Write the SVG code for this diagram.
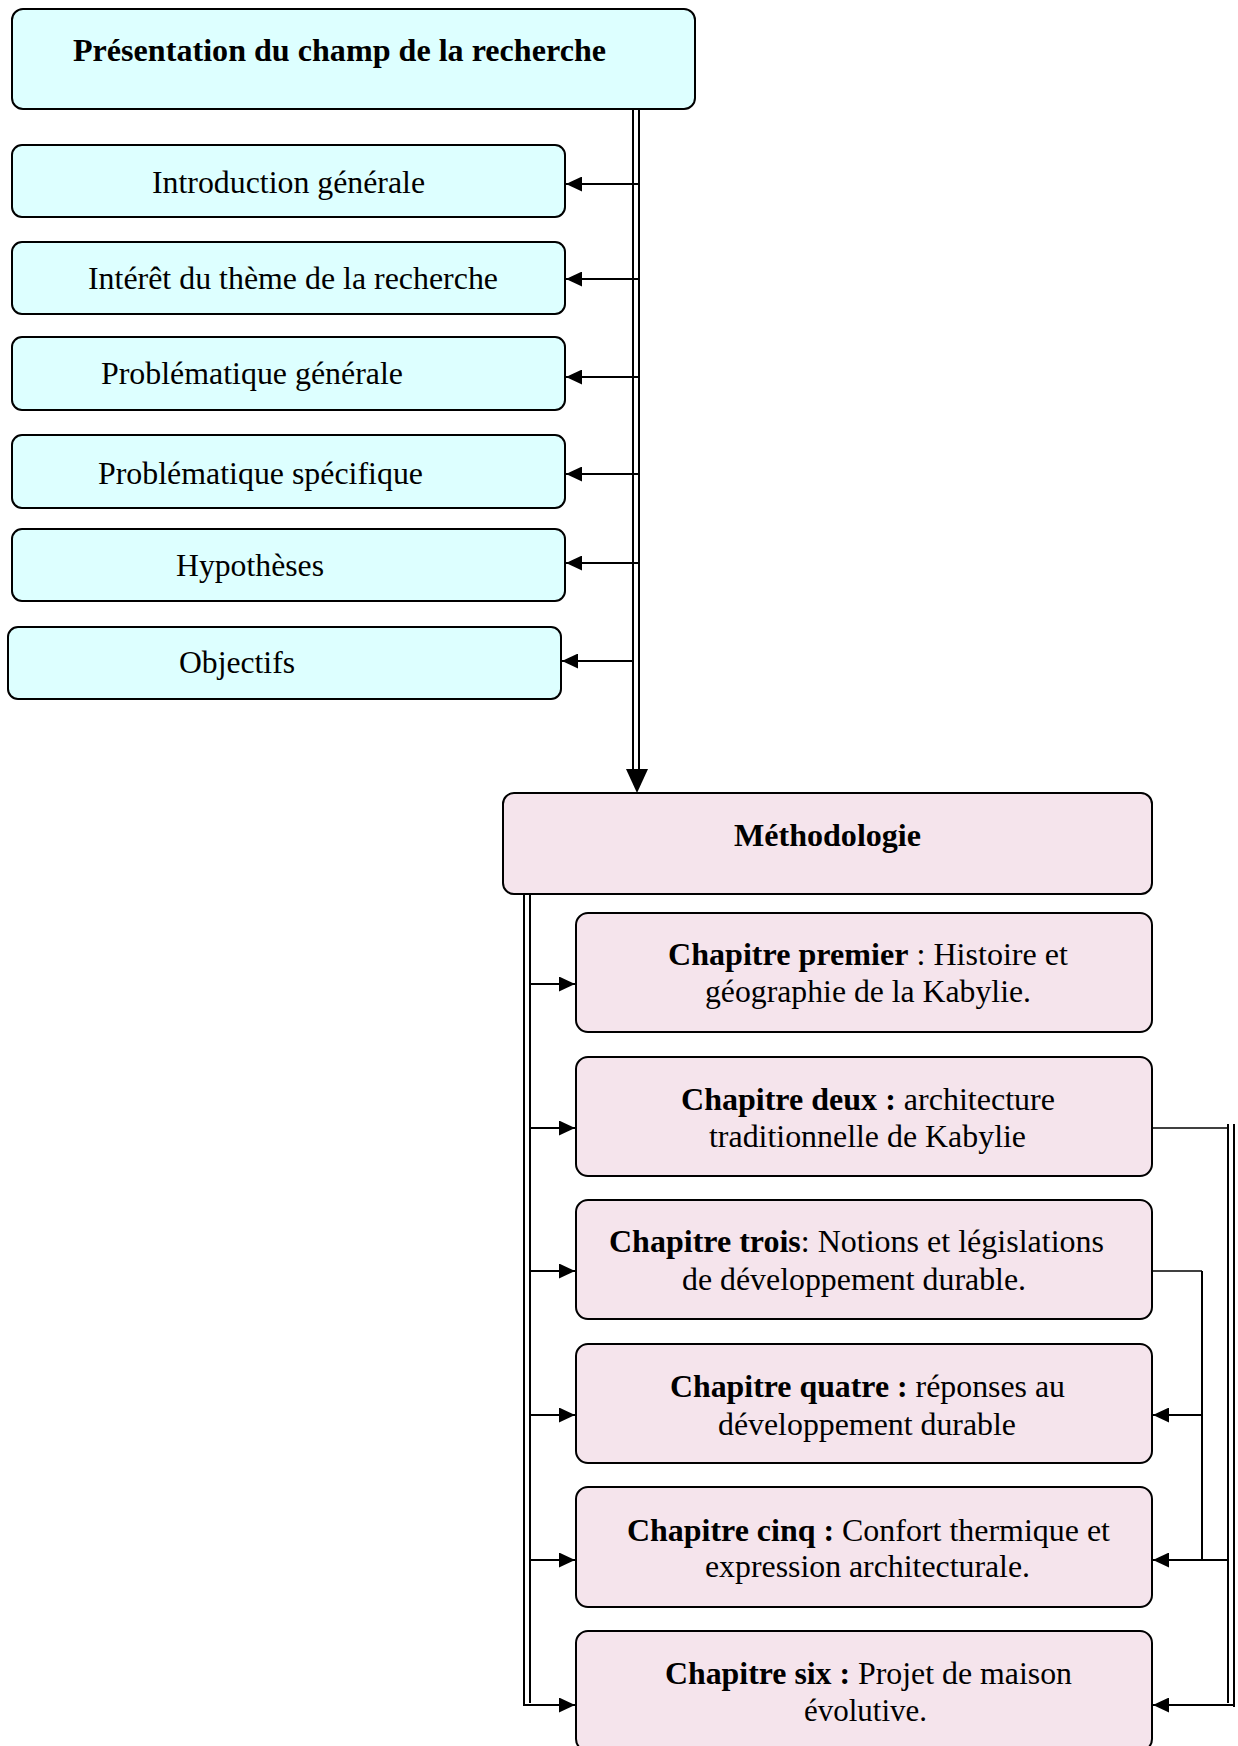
<svg xmlns="http://www.w3.org/2000/svg" width="1238" height="1746" viewBox="0 0 1238 1746">
<defs>
<style>
.cy{fill:#DDFFFF;stroke:#000;stroke-width:2}
.pk{fill:#F5E4EC;stroke:#000;stroke-width:2}
.t{font-family:"Liberation Serif","Times New Roman",serif;font-size:32px;fill:#000}
.b{font-weight:bold}
.ln{stroke:#000;stroke-width:2;fill:none}
.th{stroke:#000;stroke-width:1.5;fill:none}
</style>
<marker id="ah2" markerWidth="16" markerHeight="15" refX="16" refY="7.5" orient="auto" markerUnits="userSpaceOnUse" viewBox="0 0 16 15">
<path d="M0,0 L16,7.5 L0,15 z" fill="#000"/>
</marker>
</defs>

<g id="n-presentation">
<rect class="cy" x="12" y="9" width="683" height="100" rx="11"/>
<text class="t b" x="73" y="61" textLength="533" lengthAdjust="spacingAndGlyphs">Présentation du champ de la recherche</text>
</g>
<g id="n-intro">
<rect class="cy" x="12" y="145" width="553" height="72" rx="10"/>
<text class="t" x="152" y="193" textLength="273" lengthAdjust="spacingAndGlyphs">Introduction générale</text>
</g>
<g id="n-interet">
<rect class="cy" x="12" y="242" width="553" height="72" rx="10"/>
<text class="t" x="88" y="289" textLength="410" lengthAdjust="spacingAndGlyphs">Intérêt du thème de la recherche</text>
</g>
<g id="n-probgen">
<rect class="cy" x="12" y="337" width="553" height="73" rx="10"/>
<text class="t" x="101" y="384" textLength="302" lengthAdjust="spacingAndGlyphs">Problématique générale</text>
</g>
<g id="n-probspec">
<rect class="cy" x="12" y="435" width="553" height="73" rx="10"/>
<text class="t" x="98" y="484" textLength="325" lengthAdjust="spacingAndGlyphs">Problématique spécifique</text>
</g>
<g id="n-hyp">
<rect class="cy" x="12" y="529" width="553" height="72" rx="10"/>
<text class="t" x="176" y="576" textLength="148" lengthAdjust="spacingAndGlyphs">Hypothèses</text>
</g>
<g id="n-obj">
<rect class="cy" x="8" y="627" width="553" height="72" rx="10"/>
<text class="t" x="179" y="673" textLength="116" lengthAdjust="spacingAndGlyphs">Objectifs</text>
</g>

<g id="n-methodo">
<rect class="pk" x="503" y="793" width="649" height="101" rx="11"/>
<text class="t b" x="734" y="846" textLength="187" lengthAdjust="spacingAndGlyphs">Méthodologie</text>
</g>
<g id="n-ch1">
<rect class="pk" x="576" y="913" width="576" height="119" rx="12"/>
<text class="t" x="668" y="965" textLength="400" lengthAdjust="spacingAndGlyphs"><tspan class="b">Chapitre premier</tspan> : Histoire et</text>
<text class="t" x="705" y="1002" textLength="326" lengthAdjust="spacingAndGlyphs">géographie de la Kabylie.</text>
</g>
<g id="n-ch2">
<rect class="pk" x="576" y="1057" width="576" height="119" rx="12"/>
<text class="t" x="681" y="1110" textLength="374" lengthAdjust="spacingAndGlyphs"><tspan class="b">Chapitre deux :</tspan> architecture</text>
<text class="t" x="709" y="1147" textLength="317" lengthAdjust="spacingAndGlyphs">traditionnelle de Kabylie</text>
</g>
<g id="n-ch3">
<rect class="pk" x="576" y="1200" width="576" height="119" rx="12"/>
<text class="t" x="609" y="1252" textLength="495" lengthAdjust="spacingAndGlyphs"><tspan class="b">Chapitre trois</tspan>: Notions et législations</text>
<text class="t" x="682" y="1290" textLength="344" lengthAdjust="spacingAndGlyphs">de développement durable.</text>
</g>
<g id="n-ch4">
<rect class="pk" x="576" y="1344" width="576" height="119" rx="12"/>
<text class="t" x="670" y="1397" textLength="395" lengthAdjust="spacingAndGlyphs"><tspan class="b">Chapitre quatre :</tspan> réponses au</text>
<text class="t" x="718" y="1435" textLength="298" lengthAdjust="spacingAndGlyphs">développement durable</text>
</g>
<g id="n-ch5">
<rect class="pk" x="576" y="1487" width="576" height="120" rx="12"/>
<text class="t" x="627" y="1541" textLength="483" lengthAdjust="spacingAndGlyphs"><tspan class="b">Chapitre cinq :</tspan> Confort thermique et</text>
<text class="t" x="705" y="1577" textLength="325" lengthAdjust="spacingAndGlyphs">expression architecturale.</text>
</g>
<g id="n-ch6">
<rect class="pk" x="576" y="1631" width="576" height="120" rx="12"/>
<text class="t" x="665" y="1684" textLength="407" lengthAdjust="spacingAndGlyphs"><tspan class="b">Chapitre six :</tspan> Projet de maison</text>
<text class="t" x="804" y="1721" textLength="123" lengthAdjust="spacingAndGlyphs">évolutive.</text>
</g>

<g id="connectors">
<line class="ln" x1="633" y1="109" x2="633" y2="772"/>
<line class="ln" x1="639" y1="109" x2="639" y2="772"/>
<polygon points="626,769 648,769 637,793" fill="#000"/>
<line class="ln" x1="639" y1="184" x2="566" y2="184" marker-end="url(#ah2)"/>
<line class="ln" x1="639" y1="279" x2="566" y2="279" marker-end="url(#ah2)"/>
<line class="ln" x1="639" y1="377" x2="566" y2="377" marker-end="url(#ah2)"/>
<line class="ln" x1="639" y1="474" x2="566" y2="474" marker-end="url(#ah2)"/>
<line class="ln" x1="639" y1="563" x2="566" y2="563" marker-end="url(#ah2)"/>
<line class="ln" x1="633" y1="661" x2="562" y2="661" marker-end="url(#ah2)"/>
<line class="ln" x1="524" y1="894" x2="524" y2="1706"/>
<line class="ln" x1="530" y1="894" x2="530" y2="1703"/>
<line class="ln" x1="523" y1="1705" x2="575" y2="1705" marker-end="url(#ah2)"/>
<line class="ln" x1="530" y1="984" x2="575" y2="984" marker-end="url(#ah2)"/>
<line class="ln" x1="530" y1="1128" x2="575" y2="1128" marker-end="url(#ah2)"/>
<line class="ln" x1="530" y1="1271" x2="575" y2="1271" marker-end="url(#ah2)"/>
<line class="ln" x1="530" y1="1415" x2="575" y2="1415" marker-end="url(#ah2)"/>
<line class="ln" x1="530" y1="1560" x2="575" y2="1560" marker-end="url(#ah2)"/>
<line class="th" x1="1152" y1="1128" x2="1228" y2="1128"/>
<line class="ln" x1="1228" y1="1124" x2="1228" y2="1703"/>
<line class="ln" x1="1234" y1="1124" x2="1234" y2="1707"/>
<line class="th" x1="1152" y1="1271" x2="1202" y2="1271"/>
<line class="ln" x1="1202" y1="1271" x2="1202" y2="1560"/>
<line class="ln" x1="1202" y1="1415" x2="1153" y2="1415" marker-end="url(#ah2)"/>
<line class="ln" x1="1228" y1="1560" x2="1153" y2="1560" marker-end="url(#ah2)"/>
<line class="ln" x1="1234" y1="1705" x2="1153" y2="1705" marker-end="url(#ah2)"/>
</g>
</svg>
